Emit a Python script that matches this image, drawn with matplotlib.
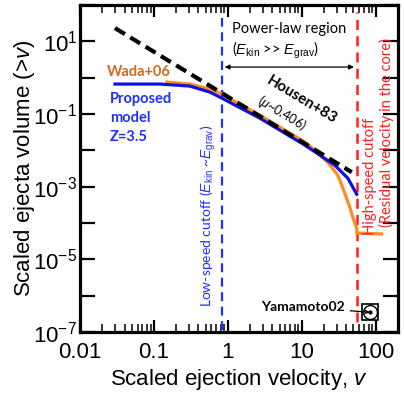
import numpy as np
import matplotlib
matplotlib.use("Agg")
import matplotlib.pyplot as plt
from matplotlib.ticker import FixedLocator, NullFormatter

plt.rcParams['font.family'] = ['Liberation Sans', 'DejaVu Sans']
plt.rcParams['mathtext.fontset'] = 'custom'
plt.rcParams['mathtext.rm'] = 'Liberation Sans'
plt.rcParams['mathtext.it'] = 'Liberation Sans:italic'
plt.rcParams['mathtext.bf'] = 'Liberation Sans:bold'

# Housen+83 power law (mu ~ 0.406), end points
housen_v = [0.0297, 47.4]
housen_V = [23.2, 0.0025]

# proposed model Z=3.5
model_v = [0.0297, 0.12, 0.306, 0.571, 0.78, 2.70, 11.0, 27.9, 41.9, 55.3]
model_V = [0.667, 0.667, 0.587, 0.40, 0.292, 0.077, 0.0139, 0.0039, 0.00171, 0.00062]

# Wada+06 simulation
wada_v = [0.150, 0.306, 0.571, 0.78, 2.70, 11.0, 15.0, 22.4, 30.6, 34.7, 38.1, 44.6,
          48.9, 55.3, 55.3, 120]
wada_V = [0.757, 0.667, 0.485, 0.377, 0.093, 0.0168, 0.0101, 0.00473, 0.00207, 0.0011,
          0.00066, 0.00027, 0.000144, 0.000072, 0.000053, 0.000050]

# Yamamoto02 experiment
yama_v = [83]
yama_V = [3.5e-7]

low_cut = 0.83
high_cut = 55.3

x_ticks = [0.01, 0.1, 1, 10, 100]
x_labels = ['0.01', '0.1', '1', '10', '100']
y_exps = list(range(-7, 3))

blue = '#1f2fff'
red = '#ff1f1f'
ann_font = ['Lato', 'DejaVu Sans']

fig = plt.figure(figsize=(4.04, 3.94), dpi=100)
ax = fig.add_axes([80 / 404, 1 - 332 / 394, 318 / 404, 327 / 394])
ax.set_xscale('log')
ax.set_yscale('log')
ax.set_xlim(0.01, 200)
ax.set_ylim(1e-7, 1e2)

ax.axvline(low_cut, ymin=0.005, ymax=0.96, color=blue, lw=1.6, dashes=(4, 2.5))
ax.axvline(high_cut, ymin=0.03, ymax=0.98, color=red, lw=1.8, dashes=(4, 2.5))

ax.plot(wada_v, wada_V, color='#ff8c1f', lw=2.3, solid_joinstyle='round')
ax.plot(model_v, model_V, color='#1010e0', lw=2.3)
hl, = ax.plot(housen_v, housen_V, color='black', lw=3)
hl.set_dashes((2.8, 1.5))

ax.plot(yama_v, yama_V, marker='s', ms=11, mfc='none', mec='black', mew=1.2, ls='none')
ax.plot(yama_v, yama_V, marker='o', ms=10, mfc='white', mec='black', mew=1.0, ls='none')
ax.plot(yama_v, yama_V, marker='o', ms=2, color='black', ls='none')

# power-law region arrow
ax.annotate('', xy=(high_cut, 1.96), xytext=(low_cut, 1.96),
            arrowprops=dict(arrowstyle='<|-|>', color='black', lw=0.9, mutation_scale=7))
ax.text(1.13, 21.8, 'Power-law region', fontsize=10.5, family=ann_font, ha='left', va='center')
ax.text(1.13, 5.75, r'($E_{\rm kin}$ >> $E_{\rm grav}$)', fontsize=10.5, family=ann_font,
        ha='left', va='center')

ax.text(0.0232, 1.43, 'Wada+06', color='#d2691e', fontsize=10.5, fontweight='bold',
        family=ann_font, ha='left', va='center')
ax.text(0.0254, 0.40, 'Proposed\nmodel\nZ=3.5', color=blue, fontsize=10.5, fontweight='bold',
        family=ann_font, ha='left', va='top', linespacing=1.45)

ax.text(10, 0.241, 'Housen+83', fontsize=11, fontweight='bold', family=ann_font,
        rotation=-31, ha='center', va='center', rotation_mode='anchor')
ax.text(5.37, 0.106, r'($\mu$~0.406)', fontsize=9, family=ann_font,
        rotation=-31, ha='center', va='center', rotation_mode='anchor')

ax.text(0.537, 4.8e-7, r'Low-speed cutoff ($E_{\rm kin}$ ~$E_{\rm grav}$)', color=blue,
        fontsize=10, family=ann_font, rotation=90, ha='center', va='bottom')
ax.text(83, 4.6e-5, 'High-speed cutoff', color=red, fontsize=10.5, family=ann_font,
        rotation=90, ha='center', va='bottom')
ax.text(141, 7.7e-5, '(Residual velocity in the core)', color=red, fontsize=10.5,
        family=ann_font, rotation=90, ha='center', va='bottom')

ax.annotate('Yamamoto02', xy=(yama_v[0], yama_V[0]), xytext=(38, 4.8e-7),
            fontsize=10, fontweight='bold', family=ann_font, ha='right', va='center',
            arrowprops=dict(arrowstyle='->', color='black', lw=0.9, mutation_scale=6,
                            shrinkA=2, shrinkB=0))

# ticks
ax.xaxis.set_major_locator(FixedLocator(x_ticks))
ax.set_xticklabels(x_labels)
ax.yaxis.set_major_locator(FixedLocator([10.0 ** e for e in y_exps]))
ax.set_yticklabels([r'$\mathregular{10^{%d}}$' % e if e % 2 else '' for e in y_exps])
ax.xaxis.set_minor_formatter(NullFormatter())
ax.yaxis.set_minor_formatter(NullFormatter())
ax.tick_params(which='both', direction='in', top=True, right=True, color='black')
ax.tick_params(axis='x', which='major', length=8.5, width=1.6, labelsize=16, pad=7)
ax.tick_params(axis='x', which='minor', length=6, width=1.1)
ax.tick_params(axis='y', which='major', length=11, width=1.6, labelsize=16, pad=2)
ax.tick_params(axis='y', which='minor', length=7.5, width=1.0)
for s in ax.spines.values():
    s.set_linewidth(2.3)

ax.set_xlabel('Scaled ejection velocity, $v$', fontsize=16, labelpad=3)
ax.set_ylabel('Scaled ejecta volume (>$v$)', fontsize=16, labelpad=-3)

fig.savefig('out.png', dpi=100)
